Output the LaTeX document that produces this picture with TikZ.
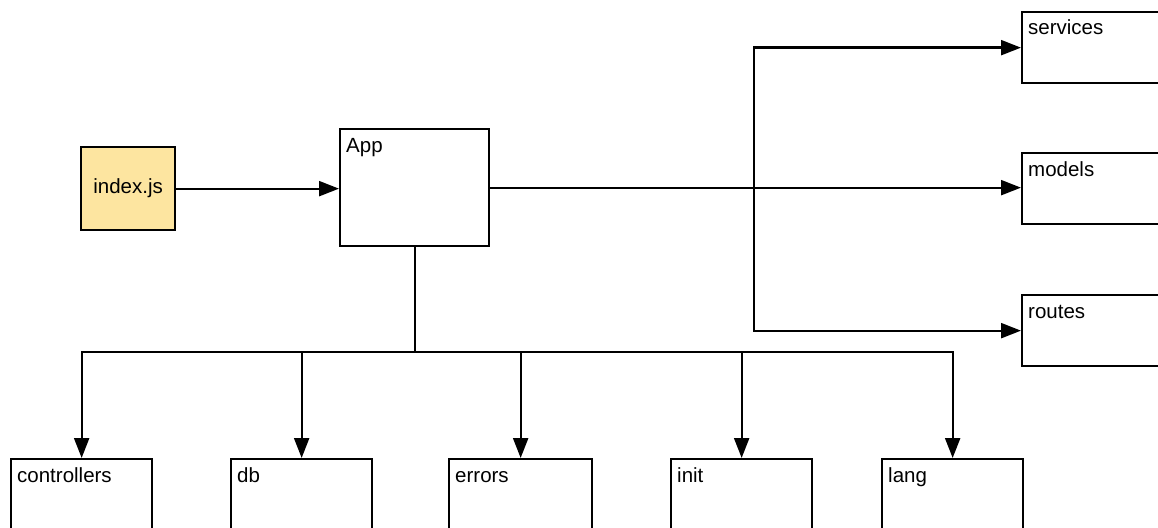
\documentclass[tikz,border=0pt]{standalone}
\usepackage{fontspec}
\setmainfont{Liberation Sans}
\usetikzlibrary{positioning,arrows.meta}
\definecolor{jsyellow}{HTML}{FDE5A0}
\tikzset{
  every node/.style={font=\fontsize{20.5}{24}\selectfont},
  box/.style={draw, line width=2.3pt, inner sep=0pt, anchor=north west},
  tag/.style={anchor=base west, inner sep=0pt, xshift=7pt, yshift=-24pt},
  link/.style={line width=2.3pt, line join=miter, -{Triangle[length=20pt,width=15pt]}},
}

\begin{document}
\begin{tikzpicture}[x=1pt,y=-1pt]
    \useasboundingbox (0,0) rectangle (1158,527);
    \clip (0,0) rectangle (1158,527);

    % entry point
    \node[box, fill=jsyellow, minimum width=94pt, minimum height=83pt] (index) at (80,146) {index.js};
    \node[box, minimum width=149pt, minimum height=117pt] (app) at (339,128) {};
    \node[tag] (app-t) at (app.north west) {App};

    % right column
    \node[box, minimum width=150pt, minimum height=71pt] (services) at (1021,11) {};
    \node[box, minimum width=150pt, minimum height=71pt] (models) at (1021,152) {};
    \node[box, minimum width=150pt, minimum height=71pt] (routes) at (1021,294) {};
    \node[tag] (services-t) at (services.north west) {services};
    \node[tag] (models-t) at (models.north west) {models};
    \node[tag] (routes-t) at (routes.north west) {routes};

    % bottom row
    \node[box, minimum width=141pt, minimum height=90pt] (controllers) at (10,458) {};
    \node[box, minimum width=141pt, minimum height=90pt] (db) at (230,458) {};
    \node[box, minimum width=143pt, minimum height=90pt] (errors) at (448,458) {};
    \node[box, minimum width=141pt, minimum height=90pt] (init) at (670,458) {};
    \node[box, minimum width=141pt, minimum height=90pt] (lang) at (881,458) {};
    \foreach \b in {controllers,db,errors,init,lang}
        \node[tag] (\b-t) at (\b.north west) {\b};

    \coordinate (split) at (754,0);
    \coordinate (busy) at (0,352);

    \draw[link] (index.east) -- (index.east -| app.west);
    \draw[link] (app.east) -- (app.east -| models.west);
    \draw[link, {Triangle[length=20pt,width=15pt]}-{Triangle[length=20pt,width=15pt]}]
        (services.west) -- (services.west -| split) -- (routes.west -| split) -- (routes.west);

    \draw[link] (app.south) -- (app.south |- busy) -| (controllers.north);
    \draw[link] (app.south |- busy) -| (lang.north);
    \foreach \b in {db,errors,init}
        \draw[link] (\b.north |- busy) -- (\b.north);
\end{tikzpicture}
\end{document}
